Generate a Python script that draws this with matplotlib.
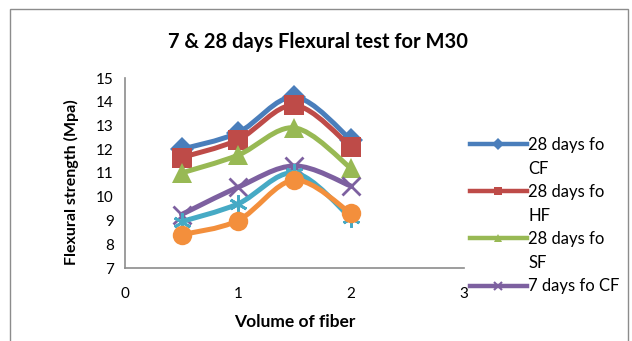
import matplotlib
matplotlib.use("Agg")
import matplotlib.pyplot as plt
from matplotlib.path import Path
from matplotlib.patches import PathPatch, Rectangle
from matplotlib.lines import Line2D
import numpy as np

plt.rcParams['font.family'] = ['Lato', 'DejaVu Sans']

# Data
volume = [0.5, 1.0, 1.5, 2.0]
cf_28 = [12.0, 12.7, 14.2, 12.4]
hf_28 = [11.65, 12.4, 13.85, 12.1]
sf_28 = [11.0, 11.75, 12.9, 11.2]
cf_7 = [9.25, 10.4, 11.3, 10.45]
hf_7 = [8.95, 9.7, 11.0, 9.1]
sf_7 = [8.4, 9.0, 10.7, 9.3]

series_names = ["28 days fo CF", "28 days fo HF", "28 days fo SF",
                "7 days fo CF", "7 days fo HF", "7 days fo SF"]
title = "7 & 28 days Flexural test for M30"
x_label = "Volume of fiber"
y_label = "Flexural strength (Mpa)"
x_ticks = [0, 1, 2, 3]
y_ticks = [7, 8, 9, 10, 11, 12, 13, 14, 15]

colors = ['#4A7EBB', '#BE4B48', '#98B954', '#7D60A0', '#46AAC5', '#F38F3C']
markers = ['D', 's', '^', 'x', (6, 2, 0), 'o']
msizes = [12, 14, 14, 13, 13, 14]

fig = plt.figure(figsize=(6.32, 3.41), dpi=100)
ax = fig.add_axes([125/632, 1 - 268/341, (464 - 125)/632, (268 - 78)/341])


def smooth_path(xs, ys):
    pts = np.column_stack([xs, ys]).astype(float)
    n = len(pts)
    verts = [pts[0]]
    codes = [Path.MOVETO]
    for i in range(n - 1):
        p0 = pts[i - 1] if i > 0 else pts[i]
        p1 = pts[i]
        p2 = pts[i + 1]
        p3 = pts[i + 2] if i + 2 < n else pts[i + 1]
        c1 = p1 + (p2 - p0) / 6.0
        c2 = p2 - (p3 - p1) / 6.0
        verts += [c1, c2, p2]
        codes += [Path.CURVE4] * 3
    return Path(verts, codes)


all_series = [cf_28, hf_28, sf_28, cf_7, hf_7, sf_7]
for i, ys in enumerate(all_series):
    patch = PathPatch(smooth_path(volume, ys), facecolor='none', edgecolor=colors[i],
                      lw=3.6, capstyle='round', joinstyle='round', zorder=2 + i * 0.1)
    ax.add_patch(patch)
    mew = 2.0 if i in (3, 4) else 0
    ax.plot(volume, ys, linestyle='none', marker=markers[i], markersize=msizes[i],
            color=colors[i], markeredgecolor=colors[i], markeredgewidth=mew,
            zorder=2.05 + i * 0.1)

ax.set_xlim(0, 3)
ax.set_ylim(7, 15)
ax.set_xticks(x_ticks)
ax.set_yticks(y_ticks)
ax.tick_params(length=0, labelsize=11, pad=8)
ax.tick_params(axis='x', pad=14)
for s in ['top', 'right']:
    ax.spines[s].set_visible(False)
for s in ['left', 'bottom']:
    ax.spines[s].set_color('#8C8C8C')
    ax.spines[s].set_linewidth(1.2)

fig.text(318/632, 1 - 42/341, title, ha='center', va='center', fontsize=14.5, fontweight='bold')
fig.text(295/632, 1 - 322/341, x_label, ha='center', va='center', fontsize=12.5, fontweight='bold')
fig.text(71/632, 1 - 182/341, y_label, ha='center', va='center', fontsize=11.5,
         fontweight='bold', rotation=90)

# Legend (truncated like the reference: first four series only)
handles = []
labels = []
wrapped = [("28 days fo", "CF"), ("28 days fo", "HF"), ("28 days fo", "SF"), ("7 days fo CF", None)]
for i, (l1, l2) in enumerate(wrapped):
    handles.append(Line2D([], [], color=colors[i], lw=3.2, marker=markers[i],
                          markersize=6, markeredgewidth=1.5 if i == 3 else 0))
    labels.append(l1)
    if l2 is not None:
        handles.append(Line2D([], [], color='none', lw=0))
        labels.append(l2)
leg = fig.legend(handles, labels, loc='upper left', bbox_to_anchor=(470/632, 1 - 137/341),
                 frameon=False, fontsize=12, handlelength=3.4, handletextpad=0.1,
                 labelspacing=0.455, borderaxespad=0, borderpad=0)

fig.add_artist(Rectangle((10/632, -0.05), (628 - 10)/632, (1 - 9/341) + 0.05,
                         transform=fig.transFigure, fill=False, edgecolor='#8C8C8C', lw=1.0))

fig.savefig("out.png", dpi=100)
